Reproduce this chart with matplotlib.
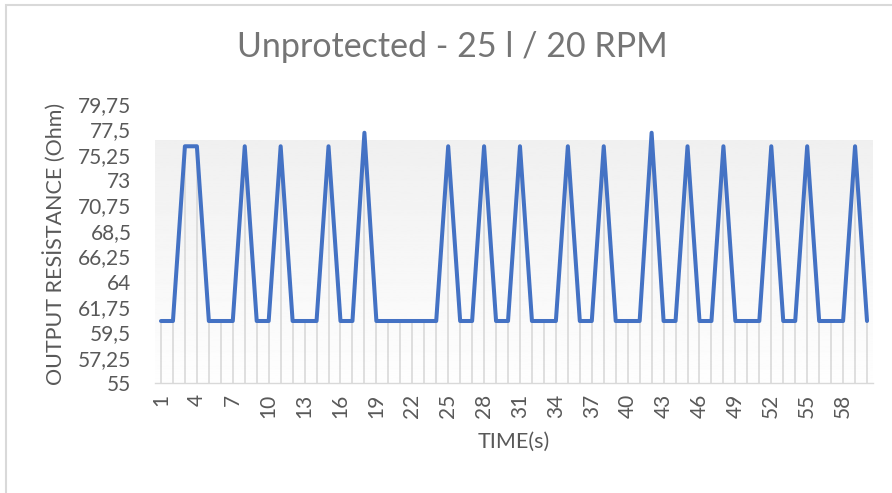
import matplotlib.pyplot as plt
import numpy as np
from matplotlib.patches import Rectangle

plt.rcParams['font.family'] = ['Lato', 'DejaVu Sans']

# data (ohm values per second)
tempo = list(range(1, 61))
resistencia = [
    60.5, 60.5, 76.0, 76.0, 60.5, 60.5, 60.5, 76.0, 60.5, 60.5,
    76.0, 60.5, 60.5, 60.5, 76.0, 60.5, 60.5, 77.2, 60.5, 60.5,
    60.5, 60.5, 60.5, 60.5, 76.0, 60.5, 60.5, 76.0, 60.5, 60.5,
    76.0, 60.5, 60.5, 60.5, 76.0, 60.5, 60.5, 76.0, 60.5, 60.5,
    60.5, 77.2, 60.5, 60.5, 76.0, 60.5, 60.5, 76.0, 60.5, 60.5,
    60.5, 76.0, 60.5, 60.5, 76.0, 60.5, 60.5, 60.5, 76.0, 60.5,
]
yTicks = np.arange(55, 79.76, 2.25)
xTicks = tempo[::3]

corTexto = '#595959'
corLinha = '#4472C4'
corGrade = '#d9d9d9'

fig = plt.figure(figsize=(8.92, 4.93), dpi=100)
ax = fig.add_axes([155 / 892, 110 / 493, 718 / 892, 279 / 493])

# gradient background under the series
topoGradiente = 76.55
grad = np.linspace(0.995, 0.94, 256).reshape(-1, 1)
ax.imshow(grad, cmap='gray', vmin=0, vmax=1, aspect='auto',
          extent=[0.5, 60.5, topoGradiente, 55], zorder=0, origin='upper')

# drop lines
ax.vlines(tempo, 55, resistencia, color=corGrade, lw=1.2, zorder=1)

ax.plot(tempo, resistencia, color=corLinha, lw=2.9,
        solid_joinstyle='round', solid_capstyle='round', zorder=3)

ax.set_xlim(0.5, 60.5)
ax.set_ylim(55, 79.75)
ax.set_yticks(yTicks)
ax.set_yticklabels(['{:g}'.format(round(v, 2)).replace('.', ',') for v in yTicks])
ax.set_xticks(xTicks)
ax.set_xticklabels([str(t) for t in xTicks], rotation=90)
ax.tick_params(axis='both', length=0, labelsize=15, colors=corTexto)
ax.tick_params(axis='y', pad=17)
ax.tick_params(axis='x', pad=8)

for lado in ['top', 'right', 'left']:
    ax.spines[lado].set_visible(False)
ax.spines['bottom'].set_color(corGrade)
ax.spines['bottom'].set_linewidth(1)
ax.set_facecolor('white')

ax.set_xlabel('TIME(s)', fontsize=15.5, color=corTexto, labelpad=10)
ax.set_ylabel('OUTPUT RESİSTANCE (Ohm)', fontsize=15.5, color=corTexto, labelpad=9)

fig.text(0.507, 0.905, 'Unprotected - 25 l / 20 RPM', ha='center', va='center',
         fontsize=24.5, color='#757575')

# chart border (cut at right and bottom)
fig.add_artist(Rectangle((5.5 / 892, -0.1), 2, 1.1 - 4.5 / 493,
                         transform=fig.transFigure, fill=False,
                         edgecolor=corGrade, lw=1.5))

fig.savefig('out.png', dpi=100)
